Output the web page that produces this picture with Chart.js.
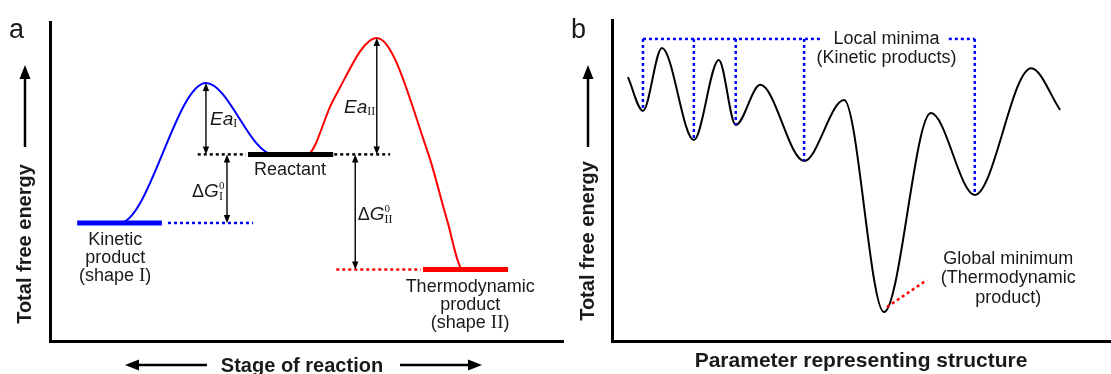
<!DOCTYPE html>
<html>
<head>
<meta charset="utf-8">
<script src="https://cdn.jsdelivr.net/npm/chart.js@4"></script>
<style>
  html, body { margin: 0; padding: 0; background: #fff; }
  #wrap { position: relative; width: 1111px; height: 374px; overflow: hidden; }
  canvas { position: absolute; top: 0; }
</style>
</head>
<body>
<div id="wrap">
  <canvas id="chartA" width="566" height="374" style="left:0"></canvas>
  <canvas id="chartB" width="545" height="374" style="left:566px"></canvas>
</div>
<script>
// ---- panel a : reaction coordinate (stage 0-100, energy 0-100) ----
const levelEnergy = [37.0, 58.5, 22.4];      // kinetic, reactant, thermodynamic
const levelStart  = [5.3, 38.6, 72.7];
const levelEnd    = [21.8, 55.2, 89.3];

// dotted guides: level index, start, end
const guideLevel = [0, 1, 1, 2];
const guideStart = [23.0, 28.8, 55.4, 55.8];
const guideEnd   = [39.6, 38.2, 66.3, 72.3];

// path I (blue) and path II (red)
const pathIX  = [10, 13.6, 30.4, 43.5, 46];
const pathIY  = [37.0, 37.0, 80.9, 58.5, 58.5];
const pathIIX = [48, 50.1, 55.2, 63.7, 73.7, 77.4, 80.5, 84];
const pathIIY = [58.5, 58.5, 75.5, 95.0, 58.9, 37.9, 22.4, 22.4];

// double arrows: Ea I, dG I, Ea II, dG II
const arrowX    = [30.4, 34.5, 63.7, 59.5];
const arrowFrom = [58.5, 58.5, 58.5, 58.5];
const arrowTo   = [80.9, 37.0, 95.0, 22.4];

// level captions
const levelLabelX = [12.7, 46.8, 81.9];
const levelLabelY = [31.7, 53.6, 16.9];

// ---- panel b : energy landscape (parameter 0-100, energy 0-100) ----
const landX = [3.2, 6.2, 10.0, 16.4, 21.4, 24.8, 29.7, 38.5, 46.5, 54.5, 63.9, 72.7, 84.0, 89.8];
const landY = [82.2, 71.7, 91.3, 62.6, 87.5, 67.3, 79.8, 56.1, 75.1, 9.0, 71.0, 45.5, 85.0, 72.0];
const localMinima = [1, 3, 5, 7, 11];   // indexes into landX/landY
const bracketY = 94.1;
const bracketSpans = [[6.2, 41.7], [67.5, 72.7]];
const pointerX = [55.1, 63.1];
const pointerY = [10.6, 19.0];
const localLabel  = { x: 55.0, y: [94.1, 88.2], text: ['Local minima', '(Kinetic products)'] };
const globalLabel = { x: 79.4, y: [25.5, 19.6, 13.4], text: ['Global minimum', '(Thermodynamic', 'product)'] };

const SANS = '"Liberation Sans", Arial, sans-serif';
const SERIF = '"Liberation Serif", "Times New Roman", serif';
const levelColors = ['#0000ff', '#000000', '#ff0000'];
const TEXT = '#1a1a1a';

function pts(xs, ys) { return xs.map((x, i) => ({ x: x, y: ys[i] })); }

function lineSet(data, color, width, dash, order, smooth) {
  return {
    data: data, borderColor: color, borderWidth: width, borderDash: dash || [],
    pointRadius: 0, fill: false, order: order, tension: 0,
    cubicInterpolationMode: smooth ? 'monotone' : 'default',
    borderCapStyle: 'butt', spanGaps: false
  };
}

function scaleOpts() {
  return {
    type: 'linear', min: 0, max: 100,
    grid: { display: false, drawTicks: false },
    ticks: { display: false },
    border: { display: true, color: '#000', width: 3 }
  };
}

function baseOptions(padding, plugin) {
  return {
    responsive: false, animation: false,
    layout: { padding: padding },
    scales: { x: scaleOpts(), y: scaleOpts() },
    plugins: { legend: { display: false }, tooltip: { enabled: false } }
  };
}

// text made of runs (for sub/superscripts)
function drawRuns(ctx, runs, x, y, align) {
  let total = 0;
  runs.forEach(r => { ctx.font = r.font; r.w = ctx.measureText(r.t).width; if (!r.stack) total += r.w; });
  let cx = align === 'right' ? x - total : align === 'center' ? x - total / 2 : x;
  ctx.textAlign = 'left';
  ctx.textBaseline = 'middle';
  runs.forEach(r => {
    ctx.font = r.font;
    ctx.fillText(r.t, cx, y + (r.dy || 0));
    if (!r.stack) cx += r.w;
  });
}

function arrowHead(ctx, x, y, dx, dy, len, half) {
  // tip at (x,y), pointing along (dx,dy)
  ctx.beginPath();
  ctx.moveTo(x, y);
  ctx.lineTo(x - dx * len - dy * half, y - dy * len + dx * half);
  ctx.lineTo(x - dx * len + dy * half, y - dy * len - dx * half);
  ctx.closePath();
  ctx.fill();
}

function axisTitles(ctx, yTitle, xTitle) {
  ctx.save();
  ctx.fillStyle = TEXT;
  ctx.strokeStyle = '#000';
  // vertical title with arrow
  ctx.save();
  ctx.translate(yTitle.x, yTitle.cy);
  ctx.rotate(-Math.PI / 2);
  ctx.font = 'bold ' + yTitle.size + 'px ' + SANS;
  ctx.textAlign = 'center';
  ctx.textBaseline = 'middle';
  ctx.fillText(yTitle.text, 0, 0);
  ctx.restore();
  ctx.lineWidth = 2.5;
  ctx.beginPath();
  ctx.moveTo(yTitle.x, yTitle.a0);
  ctx.lineTo(yTitle.x, yTitle.a1 + 8);
  ctx.stroke();
  ctx.fillStyle = '#000';
  arrowHead(ctx, yTitle.x, yTitle.a1, 0, -1, 14, 5.5);
  // horizontal title
  ctx.fillStyle = TEXT;
  ctx.font = 'bold ' + xTitle.size + 'px ' + SANS;
  ctx.textAlign = 'center';
  ctx.textBaseline = 'middle';
  ctx.fillText(xTitle.text, xTitle.cx, xTitle.y);
  if (xTitle.arrows) {
    ctx.fillStyle = '#000';
    xTitle.arrows.forEach(a => {
      const dir = Math.sign(a[1] - a[0]);
      ctx.beginPath();
      ctx.moveTo(a[0], xTitle.y - 1);
      ctx.lineTo(a[1] - dir * 8, xTitle.y - 1);
      ctx.stroke();
      arrowHead(ctx, a[1], xTitle.y - 1, dir, 0, 14, 5.5);
    });
  }
  ctx.restore();
}

// ---------- chart a ----------
const datasetsA = [];
levelEnergy.forEach((e, i) => {
  datasetsA.push(lineSet([{ x: levelStart[i], y: e }, { x: levelEnd[i], y: e }], levelColors[i], 5, [], 0, false));
});
guideLevel.forEach((lv, i) => {
  datasetsA.push(lineSet([{ x: guideStart[i], y: levelEnergy[lv] }, { x: guideEnd[i], y: levelEnergy[lv] }], levelColors[lv], 2.5, [3, 3], 1, false));
});
datasetsA.push(lineSet(pts(pathIX, pathIY), levelColors[0], 2, [], 2, true));
datasetsA.push(lineSet(pts(pathIIX, pathIIY), levelColors[2], 2, [], 2, true));

const annotateA = {
  id: 'annotateA',
  afterDatasetsDraw(chart) {
    const ctx = chart.ctx, xs = chart.scales.x, ys = chart.scales.y;
    const px = v => xs.getPixelForValue(v), py = v => ys.getPixelForValue(v);
    ctx.save();
    // double arrows
    ctx.strokeStyle = '#000';
    ctx.fillStyle = '#000';
    ctx.lineWidth = 1.4;
    arrowX.forEach((x, i) => {
      const X = px(x), Y0 = py(arrowFrom[i]), Y1 = py(arrowTo[i]);
      const d = Math.sign(Y1 - Y0);
      ctx.beginPath();
      ctx.moveTo(X, Y0 + d * 5);
      ctx.lineTo(X, Y1 - d * 5);
      ctx.stroke();
      arrowHead(ctx, X, Y1, 0, d, 8, 3.2);
      arrowHead(ctx, X, Y0, 0, -d, 8, 3.2);
    });
    // energy labels
    ctx.fillStyle = TEXT;
    const f = 'italic 19px ' + SANS, r = '18px ' + SANS;
    drawRuns(ctx, [{ t: 'Ea', font: f }, { t: 'I', font: '12px ' + SERIF, dy: 4 }], px(31.2), py(69.3), 'left');
    drawRuns(ctx, [{ t: '\u0394', font: r }, { t: 'G', font: f }, { t: '0', font: '11px ' + SERIF, dy: -6, stack: true },
                   { t: 'I', font: '12px ' + SERIF, dy: 5 }], px(33.7), py(46.7), 'right');
    drawRuns(ctx, [{ t: 'Ea', font: f }, { t: 'II', font: '12px ' + SERIF, dy: 4 }], px(63.4), py(73.0), 'right');
    drawRuns(ctx, [{ t: '\u0394', font: r }, { t: 'G', font: f }, { t: '0', font: '11px ' + SERIF, dy: -6, stack: true },
                   { t: 'II', font: '12px ' + SERIF, dy: 5 }], px(60.0), py(39.5), 'left');
    // level captions
    const captions = [
      [[{ t: 'Kinetic', font: r }], [{ t: 'product', font: r }], [{ t: '(shape ', font: r }, { t: 'I', font: '19px ' + SERIF }, { t: ')', font: r }]],
      [[{ t: 'Reactant', font: r }]],
      [[{ t: 'Thermodynamic', font: r }], [{ t: 'product', font: r }], [{ t: '(shape ', font: r }, { t: 'II', font: '19px ' + SERIF }, { t: ')', font: r }]]
    ];
    captions.forEach((lines, i) => {
      lines.forEach((runs, j) => drawRuns(ctx, runs, px(levelLabelX[i]), py(levelLabelY[i]) + j * 18, 'center'));
    });
    // panel letter
    ctx.font = '27px ' + SANS;
    ctx.textAlign = 'left';
    ctx.textBaseline = 'alphabetic';
    ctx.fillText('a', 9, 38);
    ctx.restore();
    axisTitles(ctx,
      { text: 'Total free energy', x: 25, cy: 244, a0: 147, a1: 65, size: 20 },
      { text: 'Stage of reaction', cx: 302, y: 366, size: 20, arrows: [[207, 125], [400, 482]] });
  }
};

new Chart(document.getElementById('chartA'), {
  type: 'line',
  data: { datasets: datasetsA },
  options: baseOptions({ left: 50, right: 3, top: 22, bottom: 33 }),
  plugins: [annotateA]
});

// ---------- chart b ----------
const datasetsB = [];
datasetsB.push(lineSet(pts(landX, landY), '#000', 2, [], 2, true));
bracketSpans.forEach(s => {
  datasetsB.push(lineSet([{ x: s[0], y: bracketY }, { x: s[1], y: bracketY }], '#0000ff', 2.5, [3, 3], 1, false));
});
localMinima.forEach(k => {
  datasetsB.push(lineSet([{ x: landX[k], y: bracketY }, { x: landX[k], y: landY[k] }], '#0000ff', 2.5, [3, 3], 1, false));
});
datasetsB.push(lineSet(pts(pointerX, pointerY), '#ff0000', 2.5, [3, 3], 1, false));

const annotateB = {
  id: 'annotateB',
  afterDatasetsDraw(chart) {
    const ctx = chart.ctx, xs = chart.scales.x, ys = chart.scales.y;
    const px = v => xs.getPixelForValue(v), py = v => ys.getPixelForValue(v);
    ctx.save();
    ctx.fillStyle = TEXT;
    ctx.font = '18px ' + SANS;
    ctx.textAlign = 'center';
    ctx.textBaseline = 'middle';
    localLabel.text.forEach((t, i) => ctx.fillText(t, px(localLabel.x), py(localLabel.y[i])));
    globalLabel.text.forEach((t, i) => ctx.fillText(t, px(globalLabel.x), py(globalLabel.y[i])));
    ctx.font = '27px ' + SANS;
    ctx.textAlign = 'left';
    ctx.textBaseline = 'alphabetic';
    ctx.fillText('b', 5, 38);
    ctx.restore();
    axisTitles(ctx,
      { text: 'Total free energy', x: 22, cy: 241, a0: 147, a1: 65, size: 20 },
      { text: 'Parameter representing structure', cx: 295, y: 361, size: 21 });
  }
};

new Chart(document.getElementById('chartB'), {
  type: 'line',
  data: { datasets: datasetsB },
  options: baseOptions({ left: 46, right: 0, top: 20, bottom: 33 }),
  plugins: [annotateB]
});
</script>
</body>
</html>
